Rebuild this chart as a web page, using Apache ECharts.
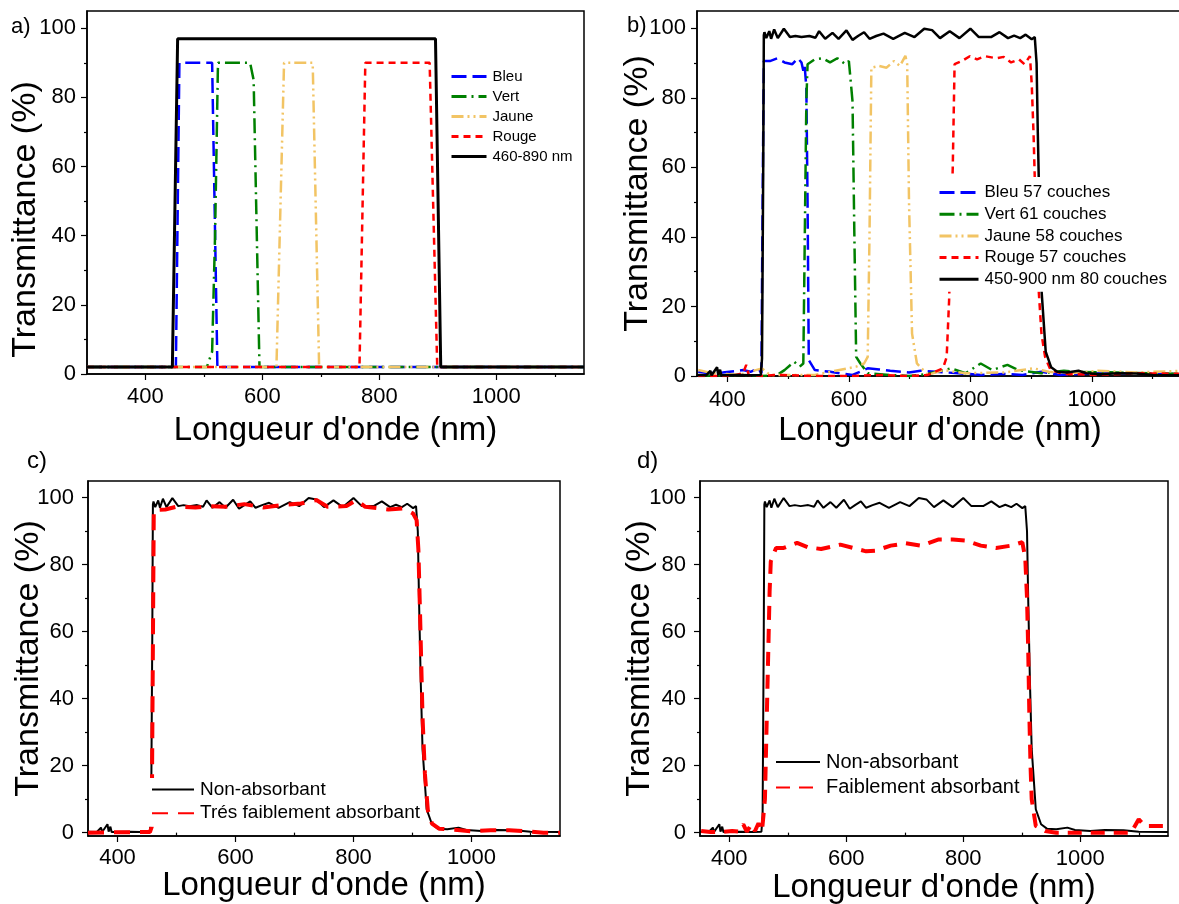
<!DOCTYPE html>
<html><head><meta charset="utf-8">
<script src="https://cdn.jsdelivr.net/npm/echarts@6/dist/echarts.min.js"></script>
<style>html,body{margin:0;padding:0;background:#fff}#c{width:1179px;height:904px}</style>
</head><body><div id="c"></div>
<script>
// ---------- DATA ----------
const xMajor = [400, 600, 800, 1000];
const xMinor = [300, 500, 700, 900, 1100];
const yMajor = [0, 20, 40, 60, 80, 100];
const yMinor = [10, 30, 50, 70, 90];

// panel a
const aNames = ['Bleu', 'Vert', 'Jaune', 'Rouge', '460-890 nm'];
const aBleu  = [[300,2],[452,2],[458,90],[514,90],[523,2],[1150,2]];
const aVert  = [[300,2],[505,2],[514,6.5],[519,40],[524,90],[579,90],[585,85],[595,2],[1150,2]];
const aJaune = [[300,2],[624,2],[637,90],[686,90],[697,2],[1150,2]];
const aRouge = [[300,2],[766,2],[776,90],[886,90],[899,2],[1150,2]];
const aLarge = [[300,2],[446,2],[455,97],[896,97],[905,2],[1150,2]];

// panel b
const bNames = ['Bleu 57 couches', 'Vert 61 couches', 'Jaune 58 couches', 'Rouge 57 couches', '450-900 nm 80 couches'];
const bBleu = [[352,1.2],[370,0.8],[392,1],[426,1.7],[438,1.2],[451,2.2],[456,0.8],[458,50],[460,90.6],[470,90.6],[482,91.4],[494,90.2],[507,89.7],[516,91.4],[522,90.2],[525,87.8],[527,89.7],[530,83],[532,50],[534,4.6],[544,1.7],[569,1.2],[606,0.3],[631,2.2],[650,1.9],[668,1.5],[699,1],[718,1.5],[743,1.2],[780,0.8],[817,0.3],[855,0.6],[886,0.3],[917,1.2],[948,0.3],[979,0.6],[1041,0.8],[1103,0.6],[1150,0.6]];
const bVert = [[352,0],[420,0.3],[457,0],[482,0.3],[494,1.7],[510,4.1],[519,2.7],[525,3.6],[530,79],[532,89.7],[544,91.1],[557,91.4],[569,90.2],[581,91.4],[594,89.7],[600,90.6],[606,79],[609,41],[612,5.5],[619,3.6],[631,0.8],[668,0.3],[699,0],[730,0.6],[768,2.2],[792,0.8],[817,3.6],[836,1.7],[861,3.2],[879,1.7],[917,0.8],[954,1.5],[979,1.2],[1041,1],[1150,0.6]];
const bJaune = [[352,1.7],[376,0.8],[420,0.3],[457,2.2],[470,0.3],[544,0.3],[612,2.7],[625,3.6],[631,5.5],[634,41],[637,88.7],[650,89.2],[662,88.7],[674,90.6],[684,89.2],[693,92.1],[696,89.7],[699,50],[704,12.2],[712,3.6],[730,0.3],[755,1.7],[792,0.8],[855,1],[904,2.2],[929,1.2],[966,0.8],[1010,1.5],[1072,1],[1150,1.5]];
const bRouge = [[352,0],[407,0],[426,0.8],[431,3.2],[435,0.3],[457,0],[482,0.3],[544,0],[606,0],[656,0.3],[699,0],[730,0.3],[755,2.2],[761,5.5],[765,21.8],[771,60],[774,89.7],[786,90.6],[799,92],[811,91.1],[824,92],[843,91.4],[855,91.8],[867,90.2],[880,91.1],[889,89.7],[898,92],[901,84],[904,69.6],[910,31.4],[917,12.2],[923,5.5],[932,1.7],[954,0.6],[1010,0.3],[1072,0.8],[1150,0.6]];
// large-band (non-absorbant) filter, shared by panels b, c, d
const nonAbsorbant = [[350,0.3],[365,0.2],[372,1.5],[374,0.2],[383,2.5],[385,0.3],[388,1.8],[390,0.2],[420,0.3],[440,0.2],[455,0.3],[457,5],[459,60],[460,98],[461,98.9],[464,97.2],[469,99.2],[472,97],[477,99.7],[483,97.2],[493,99.9],[503,97.5],[512,97.8],[522,97.5],[535,97.8],[545,97.3],[551,99.2],[561,97],[573,98.7],[583,97],[596,99.4],[606,96.7],[615,97.8],[625,98.9],[634,97],[645,97.8],[657,98.5],[673,97],[692,98.7],[708,97.5],[724,99.9],[737,99.5],[750,97.2],[766,99.2],[782,97.2],[800,99.9],[814,97.5],[834,97.5],[848,98.9],[862,97.2],[872,97.9],[882,97.2],[891,98.2],[901,96.9],[906,97.5],[909,90],[911,70],[914,45],[917,25],[924,7],[933,2.5],[943,1.2],[959,1],[978,1.5],[991,0.8],[1017,0.5],[1042,0.8],[1074,0.7],[1100,0.3],[1150,0.2]];

// panel c
const cNames = ['Non-absorbant', 'Trés faiblement absorbant'];
const cTres = [[350,0],[455,0.2],[458,1.7],[461.5,96.3],[481,96.5],[500,97.3],[532,97.1],[558,97.5],[583,97.3],[615,98.1],[647,97.1],[679,97.8],[711,98.3],[737,99.3],[756,97.3],[788,97.5],[805,99.3],[820,97.3],[859,96.5],[885,96.8],[901,95.3],[907,93.3],[910,84.4],[913,64],[917,34.6],[921,17.6],[926,6.7],[933,2.7],[945,1.2],[981,0.7],[1000,0.4],[1032,0.7],[1064,0.7],[1096,0.4],[1122,0],[1150,0]];

// panel d
const dNames = ['Non-absorbant', 'Faiblement absorbant'];
const dFaible = [[352,0.5],[368,0.2],[387,0.2],[405,0.5],[416,0.3],[424,2.5],[430,0.3],[438,2.5],[444,0.5],[450,2.8],[456,0.5],[458,1],[461,10],[469,72],[471,81],[480,85],[493,85],[516,86.5],[535,85.2],[557,84.7],[590,86],[612,85],[634,84],[650,84.2],[676,85.7],[702,86.4],[728,85.7],[757,87.5],[782,87.5],[805,87.2],[830,85.7],[856,85],[882,85.7],[901,86.7],[906,82],[909,70],[911,55],[913,35],[915,20],[917,10],[924,2],[940,0.5],[959,0],[997,0],[1087,0],[1100,4],[1110,2],[1150,2]];

// ---------- CHART ----------
const FONT = 'Liberation Sans, Arial, sans-serif';
const chart = echarts.init(document.getElementById('c'), null, {renderer: 'canvas'});

const panels = [
  {grid:{left:87, right:595, top:11, bottom:530}, xmin:300, xmax:1150, ymin:0, ymax:105, xLab:12, yLab:11, xGap:40, yGap:44, yPad:[0,54,0,0]},
  {grid:{left:697, right:-4, top:11, bottom:528}, xmin:350, xmax:1150, ymin:0, ymax:105, xLab:13, yLab:11, xGap:38, yGap:42, yPad:0},
  {grid:{left:88, right:619, top:481, bottom:68}, xmin:350, xmax:1150, ymin:-1, ymax:105, xLab:11, yLab:14, xGap:33, yGap:42, yPad:0},
  {grid:{left:700, right:11, top:481, bottom:68}, xmin:350, xmax:1150, ymin:-1, ymax:105, xLab:12, yLab:14, xGap:35, yGap:43, yPad:0}
];

const plain = v => String(v);
const grids = [], xAxes = [], yAxes = [];
panels.forEach((p, g) => {
  grids.push(Object.assign({show:true, borderColor:'#000', borderWidth:1.5, backgroundColor:'transparent', containLabel:false, outerBoundsMode:'none'}, p.grid));
  xAxes.push({
    gridIndex:g, type:'value', position:'bottom', min:p.xmin, max:p.xmax,
    name:"Longueur d'onde (nm)", nameLocation:'middle', nameGap:p.xGap, nameMoveOverlap:false,
    nameTextStyle:{fontSize:33, color:'#000', fontFamily:FONT},
    axisLine:{show:true, onZero:false, lineStyle:{color:'#000', width:1.5}},
    axisTick:{show:true, inside:false, length:6, customValues:xMajor, lineStyle:{color:'#000', width:1.2}},
    axisLabel:{show:true, customValues:xMajor, formatter:plain, margin:p.xLab, fontSize:22, color:'#000', fontFamily:FONT},
    splitLine:{show:false}
  });
  xAxes.push({
    gridIndex:g, type:'value', position:'bottom', offset:0, min:p.xmin, max:p.xmax,
    axisLine:{show:false}, axisLabel:{show:false}, splitLine:{show:false},
    axisTick:{show:true, inside:false, length:3, customValues:xMinor.filter(v => v > p.xmin), lineStyle:{color:'#000', width:1.2}}
  });
  yAxes.push({
    gridIndex:g, type:'value', position:'left', min:p.ymin, max:p.ymax,
    name:'Transmittance (%)', nameLocation:'middle', nameGap:p.yGap, nameMoveOverlap:false,
    nameTextStyle:{fontSize:34, color:'#000', fontFamily:FONT, padding:p.yPad},
    axisLine:{show:true, onZero:false, lineStyle:{color:'#000', width:1.5}},
    axisTick:{show:true, inside:false, length:6, customValues:yMajor, lineStyle:{color:'#000', width:1.2}},
    axisLabel:{show:true, customValues:yMajor, formatter:plain, margin:p.yLab, fontSize:22, color:'#000', fontFamily:FONT},
    splitLine:{show:false}
  });
  yAxes.push({
    gridIndex:g, type:'value', position:'left', offset:0, min:p.ymin, max:p.ymax,
    axisLine:{show:false}, axisLabel:{show:false}, splitLine:{show:false},
    axisTick:{show:true, inside:false, length:3, customValues:yMinor, lineStyle:{color:'#000', width:1.2}}
  });
});

const C = {bleu:'#0000FF', vert:'#008000', jaune:'#F2C464', rouge:'#FF0000', noir:'#000000'};
const DASH = {bleu:[15,6], vert:[15,5,2,5], jaune:[12,4,2,4,2,4], rouge:[7,5]};

function line(name, data, g, color, width, type, z) {
  return {name, type:'line', data, xAxisIndex:2*g, yAxisIndex:2*g, symbol:'none', showSymbol:false,
    lineStyle:{color, width, type}, itemStyle:{color}, z:z||2, animation:false, clip:true};
}

const series = [
  line(aNames[0], aBleu, 0, C.bleu, 2.5, DASH.bleu),
  line(aNames[1], aVert, 0, C.vert, 2.5, DASH.vert),
  line(aNames[2], aJaune, 0, C.jaune, 2.5, DASH.jaune),
  line(aNames[3], aRouge, 0, C.rouge, 2.5, DASH.rouge),
  line(aNames[4], aLarge, 0, C.noir, 3, 'solid', 3),

  line(bNames[0], bBleu, 1, C.bleu, 2.5, DASH.bleu),
  line(bNames[1], bVert, 1, C.vert, 2.5, DASH.vert),
  line(bNames[2], bJaune, 1, C.jaune, 2.5, DASH.jaune),
  line(bNames[3], bRouge, 1, C.rouge, 2.5, DASH.rouge),
  line(bNames[4], nonAbsorbant, 1, C.noir, 2.5, 'solid', 3),

  line(cNames[0], nonAbsorbant, 2, C.noir, 2, 'solid'),
  line(cNames[1], cTres, 2, C.rouge, 4, [16,10], 3),

  line(dNames[0], nonAbsorbant, 3, C.noir, 2, 'solid'),
  line(dNames[1], dFaible, 3, C.rouge, 4, [14,9], 3)
];

const legends = [
  {data:aNames, left:450, top:69, itemWidth:35, itemHeight:15, itemGap:5, padding:0, fontSize:15, bg:'transparent', lw:3},
  {data:bNames, left:932, top:177, itemWidth:39, itemHeight:17, itemGap:4.7, padding:[7,6,4,6], fontSize:17, bg:'#fff', lw:3},
  {data:[cNames[1]], left:148, top:778, itemWidth:42, itemHeight:19, itemGap:4.7, padding:[2,3,4,3], fontSize:19, bg:'#fff', pre:cNames[0]},
  {data:[dNames[1]], left:772, top:750, itemWidth:44, itemHeight:20, itemGap:5.6, padding:[2,3,3,3], fontSize:20, bg:'#fff', pre:dNames[0]}
].map(l => {
  const o = {
    data:l.pre ? [l.pre].concat(l.data) : l.data, orient:'vertical', left:l.left, top:l.top,
    itemWidth:l.itemWidth, itemHeight:l.itemHeight, itemGap:l.itemGap, padding:l.padding,
    backgroundColor:l.bg, borderWidth:0, selectedMode:false,
    itemStyle:{opacity:0, borderWidth:0},
    textStyle:{fontSize:l.fontSize, color:'#000', fontFamily:FONT, padding:[0,0,0,1]}
  };
  if (l.lw) o.lineStyle = {width:l.lw};
  return o;
});

chart.setOption({
  backgroundColor:'#fff',
  animation:false,
  grid:grids, xAxis:xAxes, yAxis:yAxes, series:series, legend:legends,
  graphic:[
    {type:'text', left:11, top:16, style:{text:'a)', fontSize:22, fill:'#000', fontFamily:FONT}},
    {type:'text', left:627, top:15, style:{text:'b)', fontSize:22, fill:'#000', fontFamily:FONT}},
    {type:'text', left:27, top:449, style:{text:'c)', fontSize:24, fill:'#000', fontFamily:FONT}},
    {type:'text', left:637, top:449, style:{text:'d)', fontSize:24, fill:'#000', fontFamily:FONT}}
  ]
});
</script></body></html>
